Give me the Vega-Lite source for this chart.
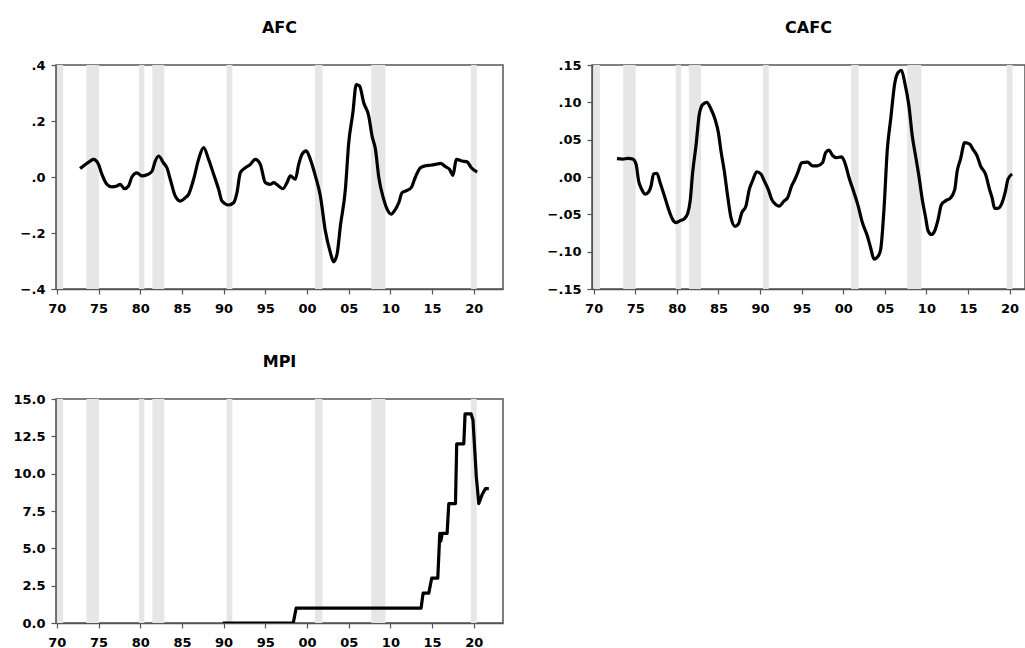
{
  "$schema": "https://vega.github.io/schema/vega-lite/v6.json",
  "background": "white",
  "padding": {"left": 12, "top": 19, "right": 0, "bottom": 0},
  "columns": 2,
  "bounds": "flush",
  "spacing": {"column": 89, "row": 110},
  "config": {
    "view": {"stroke": "#555555", "strokeWidth": 1.5},
    "axis": {
      "labelFont": "DejaVu Sans", "labelFontWeight": "bold", "labelFontSize": 13, "labelColor": "#000000",
      "domainColor": "#555555", "domainWidth": 1.5, "tickColor": "#555555", "tickWidth": 1.2, "tickSize": 5,
      "grid": false, "title": null, "labelFlush": false, "labelOverlap": false
    },
    "axisX": {"labelPadding": 8},
    "axisY": {"labelPadding": 6},
    "title": {"font": "DejaVu Sans", "fontSize": 16, "fontWeight": "bold", "color": "#000000", "anchor": "middle", "offset": 23}
  },
  "datasets": {
    "rec": [
      {"start": 1970.0, "end": 1970.75},
      {"start": 1973.55, "end": 1975.05},
      {"start": 1979.85, "end": 1980.5},
      {"start": 1981.45, "end": 1982.9},
      {"start": 1990.35, "end": 1991.05},
      {"start": 2000.95, "end": 2001.85},
      {"start": 2007.7, "end": 2009.4},
      {"start": 2019.65, "end": 2020.35}
    ],
    "afc": [
      {"year": 1972.8, "v": 0.03}, {"year": 1974.0, "v": 0.057}, {"year": 1974.4, "v": 0.063}, {"year": 1975.0, "v": 0.045},
      {"year": 1975.4, "v": 0.01}, {"year": 1976.0, "v": -0.026}, {"year": 1976.6, "v": -0.035}, {"year": 1977.2, "v": -0.032},
      {"year": 1977.6, "v": -0.026}, {"year": 1978.1, "v": -0.042}, {"year": 1978.6, "v": -0.032}, {"year": 1979.0, "v": 0.0},
      {"year": 1979.6, "v": 0.015}, {"year": 1980.2, "v": 0.004}, {"year": 1980.8, "v": 0.008}, {"year": 1981.4, "v": 0.02},
      {"year": 1981.8, "v": 0.057}, {"year": 1982.2, "v": 0.075}, {"year": 1982.8, "v": 0.05}, {"year": 1983.2, "v": 0.033},
      {"year": 1983.6, "v": -0.008}, {"year": 1984.2, "v": -0.068}, {"year": 1984.8, "v": -0.086}, {"year": 1985.4, "v": -0.074},
      {"year": 1985.8, "v": -0.062}, {"year": 1986.4, "v": -0.008}, {"year": 1987.0, "v": 0.063}, {"year": 1987.6, "v": 0.105},
      {"year": 1988.2, "v": 0.063}, {"year": 1988.8, "v": 0.01}, {"year": 1989.4, "v": -0.044}, {"year": 1989.8, "v": -0.086},
      {"year": 1990.6, "v": -0.1}, {"year": 1991.2, "v": -0.092}, {"year": 1991.6, "v": -0.056}, {"year": 1992.0, "v": 0.015},
      {"year": 1992.6, "v": 0.033}, {"year": 1993.2, "v": 0.045}, {"year": 1993.8, "v": 0.063}, {"year": 1994.4, "v": 0.045},
      {"year": 1995.0, "v": -0.02}, {"year": 1995.6, "v": -0.026}, {"year": 1996.0, "v": -0.02}, {"year": 1996.6, "v": -0.032},
      {"year": 1997.1, "v": -0.042}, {"year": 1997.6, "v": -0.02}, {"year": 1998.0, "v": 0.004}, {"year": 1998.6, "v": -0.008},
      {"year": 1999.0, "v": 0.045}, {"year": 1999.4, "v": 0.081}, {"year": 1999.9, "v": 0.093}, {"year": 2000.4, "v": 0.063},
      {"year": 2001.0, "v": 0.004}, {"year": 2001.6, "v": -0.068}, {"year": 2002.2, "v": -0.193}, {"year": 2002.8, "v": -0.27},
      {"year": 2003.2, "v": -0.303}, {"year": 2003.6, "v": -0.276}, {"year": 2004.0, "v": -0.175}, {"year": 2004.6, "v": -0.044},
      {"year": 2005.0, "v": 0.122}, {"year": 2005.5, "v": 0.23}, {"year": 2005.9, "v": 0.33}, {"year": 2006.3, "v": 0.325},
      {"year": 2006.8, "v": 0.265}, {"year": 2007.4, "v": 0.218}, {"year": 2007.8, "v": 0.146}, {"year": 2008.2, "v": 0.1},
      {"year": 2008.6, "v": 0.0}, {"year": 2009.2, "v": -0.08}, {"year": 2009.6, "v": -0.115}, {"year": 2010.1, "v": -0.133},
      {"year": 2010.5, "v": -0.12}, {"year": 2011.0, "v": -0.092}, {"year": 2011.4, "v": -0.056}, {"year": 2012.0, "v": -0.048},
      {"year": 2012.5, "v": -0.038}, {"year": 2013.0, "v": 0.0}, {"year": 2013.6, "v": 0.033}, {"year": 2014.2, "v": 0.04},
      {"year": 2014.8, "v": 0.042}, {"year": 2015.4, "v": 0.045}, {"year": 2016.0, "v": 0.049}, {"year": 2016.6, "v": 0.037},
      {"year": 2017.1, "v": 0.027}, {"year": 2017.5, "v": 0.006}, {"year": 2017.9, "v": 0.063}, {"year": 2018.6, "v": 0.057},
      {"year": 2019.2, "v": 0.054}, {"year": 2019.7, "v": 0.033}, {"year": 2020.4, "v": 0.018}
    ],
    "cafc": [
      {"year": 1972.8, "v": 0.0246}, {"year": 1973.5, "v": 0.024}, {"year": 1974.1, "v": 0.025}, {"year": 1974.7, "v": 0.024},
      {"year": 1975.1, "v": 0.017}, {"year": 1975.4, "v": -0.005}, {"year": 1975.8, "v": -0.017}, {"year": 1976.2, "v": -0.023},
      {"year": 1976.6, "v": -0.02}, {"year": 1976.9, "v": -0.012}, {"year": 1977.2, "v": 0.004}, {"year": 1977.6, "v": 0.005},
      {"year": 1978.0, "v": -0.008}, {"year": 1978.5, "v": -0.025}, {"year": 1979.0, "v": -0.043}, {"year": 1979.5, "v": -0.057},
      {"year": 1979.9, "v": -0.061}, {"year": 1980.5, "v": -0.058}, {"year": 1980.9, "v": -0.056}, {"year": 1981.3, "v": -0.049},
      {"year": 1981.6, "v": -0.032}, {"year": 1981.9, "v": 0.006}, {"year": 1982.3, "v": 0.042}, {"year": 1982.7, "v": 0.084},
      {"year": 1983.1, "v": 0.097}, {"year": 1983.6, "v": 0.1}, {"year": 1984.1, "v": 0.091}, {"year": 1984.6, "v": 0.077},
      {"year": 1985.0, "v": 0.059}, {"year": 1985.3, "v": 0.035}, {"year": 1985.7, "v": 0.008}, {"year": 1986.1, "v": -0.025},
      {"year": 1986.5, "v": -0.054}, {"year": 1987.0, "v": -0.066}, {"year": 1987.4, "v": -0.063}, {"year": 1987.8, "v": -0.048},
      {"year": 1988.3, "v": -0.039}, {"year": 1988.7, "v": -0.017}, {"year": 1989.1, "v": -0.005}, {"year": 1989.6, "v": 0.007},
      {"year": 1990.1, "v": 0.004}, {"year": 1990.5, "v": -0.005}, {"year": 1991.0, "v": -0.017}, {"year": 1991.4, "v": -0.03},
      {"year": 1991.9, "v": -0.037}, {"year": 1992.3, "v": -0.039}, {"year": 1992.9, "v": -0.032}, {"year": 1993.3, "v": -0.028},
      {"year": 1993.8, "v": -0.012}, {"year": 1994.2, "v": -0.003}, {"year": 1994.6, "v": 0.008}, {"year": 1995.0, "v": 0.019},
      {"year": 1995.7, "v": 0.02}, {"year": 1996.3, "v": 0.015}, {"year": 1996.9, "v": 0.015}, {"year": 1997.5, "v": 0.019},
      {"year": 1997.9, "v": 0.033}, {"year": 1998.3, "v": 0.036}, {"year": 1998.7, "v": 0.029}, {"year": 1999.2, "v": 0.026},
      {"year": 1999.8, "v": 0.027}, {"year": 2000.2, "v": 0.019}, {"year": 2000.7, "v": -0.001}, {"year": 2001.3, "v": -0.021},
      {"year": 2001.8, "v": -0.039}, {"year": 2002.3, "v": -0.061}, {"year": 2002.9, "v": -0.079}, {"year": 2003.3, "v": -0.095},
      {"year": 2003.7, "v": -0.11}, {"year": 2004.2, "v": -0.106}, {"year": 2004.5, "v": -0.097}, {"year": 2004.9, "v": -0.043},
      {"year": 2005.3, "v": 0.037}, {"year": 2005.7, "v": 0.077}, {"year": 2006.2, "v": 0.126}, {"year": 2006.6, "v": 0.14},
      {"year": 2007.0, "v": 0.143}, {"year": 2007.4, "v": 0.126}, {"year": 2007.9, "v": 0.095}, {"year": 2008.3, "v": 0.055},
      {"year": 2008.7, "v": 0.028}, {"year": 2009.1, "v": 0.001}, {"year": 2009.5, "v": -0.03}, {"year": 2009.9, "v": -0.054},
      {"year": 2010.2, "v": -0.072}, {"year": 2010.6, "v": -0.077}, {"year": 2011.0, "v": -0.072}, {"year": 2011.4, "v": -0.057},
      {"year": 2011.8, "v": -0.037}, {"year": 2012.3, "v": -0.032}, {"year": 2012.9, "v": -0.028}, {"year": 2013.4, "v": -0.017},
      {"year": 2013.7, "v": 0.008}, {"year": 2014.1, "v": 0.024}, {"year": 2014.6, "v": 0.046}, {"year": 2015.2, "v": 0.044},
      {"year": 2015.6, "v": 0.037}, {"year": 2016.1, "v": 0.028}, {"year": 2016.5, "v": 0.015}, {"year": 2017.1, "v": 0.004},
      {"year": 2017.6, "v": -0.017}, {"year": 2017.9, "v": -0.028}, {"year": 2018.2, "v": -0.042}, {"year": 2018.6, "v": -0.042},
      {"year": 2019.0, "v": -0.037}, {"year": 2019.5, "v": -0.019}, {"year": 2019.8, "v": -0.003}, {"year": 2020.3, "v": 0.004}
    ],
    "mpi": [
      {"year": 1989.9, "v": 0}, {"year": 1998.35, "v": 0}, {"year": 1998.7, "v": 1}, {"year": 2013.68, "v": 1},
      {"year": 2013.92, "v": 2}, {"year": 2014.6, "v": 2}, {"year": 2014.95, "v": 3}, {"year": 2015.68, "v": 3},
      {"year": 2015.92, "v": 6}, {"year": 2016.05, "v": 5.5}, {"year": 2016.2, "v": 6}, {"year": 2016.8, "v": 6},
      {"year": 2017.0, "v": 8}, {"year": 2017.8, "v": 8}, {"year": 2017.95, "v": 12}, {"year": 2018.8, "v": 12},
      {"year": 2018.95, "v": 14}, {"year": 2019.68, "v": 14}, {"year": 2019.9, "v": 13.6}, {"year": 2020.3, "v": 9.8},
      {"year": 2020.6, "v": 8.0}, {"year": 2021.0, "v": 8.6}, {"year": 2021.4, "v": 9.0}, {"year": 2021.8, "v": 9.0}
    ]
  },
  "concat": [
    {
      "width": 447, "height": 224,
      "title": {"text": "AFC"},
      "layer": [
        {
          "data": {"name": "rec"},
          "mark": {"type": "rect", "color": "#e6e6e6", "clip": true},
          "encoding": {
            "x": {"field": "start", "type": "quantitative",
                  "scale": {"domain": [1969.9, 2023.5], "nice": false, "zero": false},
                  "axis": {"values": [1970, 1975, 1980, 1985, 1990, 1995, 2000, 2005, 2010, 2015, 2020], "labelExpr": "substring(toString(datum.value), 2)"}},
            "x2": {"field": "end"}
          }
        },
        {
          "data": {"name": "afc"},
          "mark": {"type": "line", "color": "#000000", "strokeWidth": 3.2, "clip": true, "strokeJoin": "round", "interpolate": "monotone"},
          "encoding": {
            "x": {"field": "year", "type": "quantitative"},
            "y": {"field": "v", "type": "quantitative",
                  "scale": {"domain": [-0.4, 0.4], "nice": false, "zero": false},
                  "axis": {"values": [-0.4, -0.2, 0, 0.2, 0.4], "labelExpr": "replace(format(datum.value, '.1f'), '0.', '.')"}}
          }
        }
      ]
    },
    {
      "width": 433, "height": 224,
      "title": {"text": "CAFC"},
      "layer": [
        {
          "data": {"name": "rec"},
          "mark": {"type": "rect", "color": "#e6e6e6", "clip": true},
          "encoding": {
            "x": {"field": "start", "type": "quantitative",
                  "scale": {"domain": [1969.8, 2021.85], "nice": false, "zero": false},
                  "axis": {"values": [1970, 1975, 1980, 1985, 1990, 1995, 2000, 2005, 2010, 2015, 2020], "labelExpr": "substring(toString(datum.value), 2)"}},
            "x2": {"field": "end"}
          }
        },
        {
          "data": {"name": "cafc"},
          "mark": {"type": "line", "color": "#000000", "strokeWidth": 3.2, "clip": true, "strokeJoin": "round", "interpolate": "monotone"},
          "encoding": {
            "x": {"field": "year", "type": "quantitative"},
            "y": {"field": "v", "type": "quantitative",
                  "scale": {"domain": [-0.15, 0.15], "nice": false, "zero": false},
                  "axis": {"values": [-0.15, -0.1, -0.05, 0, 0.05, 0.1, 0.15], "labelExpr": "replace(format(datum.value, '.2f'), '0.', '.')"}}
          }
        }
      ]
    },
    {
      "width": 447, "height": 224,
      "title": {"text": "MPI"},
      "layer": [
        {
          "data": {"name": "rec"},
          "mark": {"type": "rect", "color": "#e6e6e6", "clip": true},
          "encoding": {
            "x": {"field": "start", "type": "quantitative",
                  "scale": {"domain": [1969.9, 2023.5], "nice": false, "zero": false},
                  "axis": {"values": [1970, 1975, 1980, 1985, 1990, 1995, 2000, 2005, 2010, 2015, 2020], "labelExpr": "substring(toString(datum.value), 2)"}},
            "x2": {"field": "end"}
          }
        },
        {
          "data": {"name": "mpi"},
          "mark": {"type": "line", "color": "#000000", "strokeWidth": 3.2, "clip": true, "strokeJoin": "round"},
          "encoding": {
            "x": {"field": "year", "type": "quantitative"},
            "y": {"field": "v", "type": "quantitative",
                  "scale": {"domain": [0, 15], "nice": false, "zero": false},
                  "axis": {"values": [0, 2.5, 5, 7.5, 10, 12.5, 15], "format": ".1f"}}
          }
        }
      ]
    }
  ]
}
